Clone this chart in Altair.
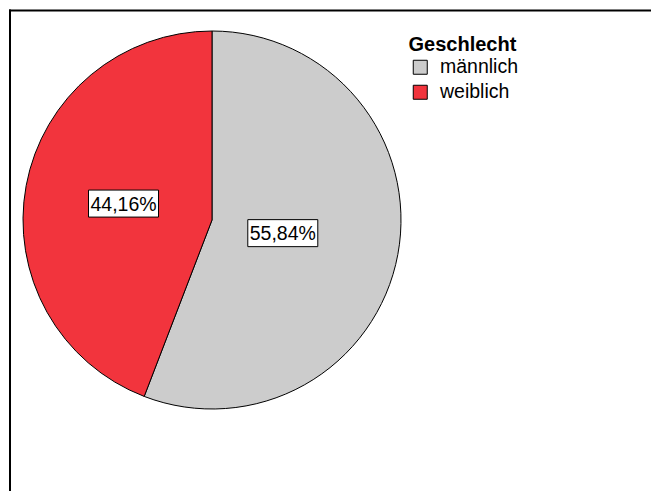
import math
import altair as alt
import pandas as pd

# ---- data ----
categories = ["männlich", "weiblich"]
values = [55.84, 44.16]
pct_labels = ["55,84%", "44,16%"]
colors = ["#CCCCCC", "#F2343D"]

# layout constants (label distance from centre, as fraction of radius)
label_radius = {"männlich": 72 / 189, "weiblich": 90 / 189}

total = sum(values)
rows = []
cum = 0.0
for c, v, l in zip(categories, values, pct_labels):
    mid = (cum + v / 2) / total
    cum += v
    ang = 2 * math.pi * mid
    r = label_radius[c]
    rows.append({"Geschlecht": c, "Wert": v, "Label": l,
                 "lx": r * math.sin(ang), "ly": r * math.cos(ang)})
df = pd.DataFrame(rows)

W = 378
H = 378

base = alt.Chart(df)

pie = base.mark_arc(stroke="black", strokeWidth=1).encode(
    theta=alt.Theta("Wert:Q", stack=True),
    color=alt.Color(
        "Geschlecht:N",
        scale=alt.Scale(domain=categories, range=colors),
        sort=categories,
        legend=alt.Legend(
            title="Geschlecht",
            orient="none",
            legendX=385.5,
            legendY=3.5,
            titleFont="Liberation Sans",
            titleFontSize=20,
            titleFontWeight="bold",
            titleColor="black",
            titlePadding=3,
            labelFont="Liberation Sans",
            labelFontSize=19.5,
            labelColor="black",
            labelOffset=10,
            symbolType="square",
            symbolSize=196,
            symbolStrokeColor="black",
            symbolStrokeWidth=1,
            symbolOpacity=1,
            symbolOffset=2,
            rowPadding=4,
            padding=0,
        ),
    ),
    order=alt.Order("Geschlecht:N", sort="ascending"),
)

xenc = alt.X("lx:Q", scale=alt.Scale(domain=[-1, 1]), axis=None)
yenc = alt.Y("ly:Q", scale=alt.Scale(domain=[-1, 1]), axis=None)

box = base.mark_point(
    shape="M-1,-0.386L1,-0.386L1,0.386L-1,0.386Z",
    filled=True,
    fill="white",
    stroke="black",
    strokeWidth=1,
    opacity=1,
    size=4900,
).encode(x=xenc, y=yenc)

txt = base.mark_text(
    font="Liberation Sans",
    fontSize=19.5,
    color="black",
    align="center",
    baseline="middle",
    dy=1,
).encode(x=xenc, y=yenc, text="Label:N")

frame_left = alt.Chart(pd.DataFrame({"a": [0]})).mark_rule(
    color="black", strokeWidth=2
).encode(x=alt.value(-13), y=alt.value(-21.5), y2=alt.value(460))

frame_top = alt.Chart(pd.DataFrame({"a": [0]})).mark_rule(
    color="black", strokeWidth=2
).encode(y=alt.value(-20.5), x=alt.value(-14), x2=alt.value(628))

chart = alt.layer(frame_left, frame_top, pie, box, txt).properties(
    width=W, height=H, padding=0, background="white"
).configure_view(stroke=None)

chart.save("out.html", embed_options={"renderer": "svg", "actions": False})
